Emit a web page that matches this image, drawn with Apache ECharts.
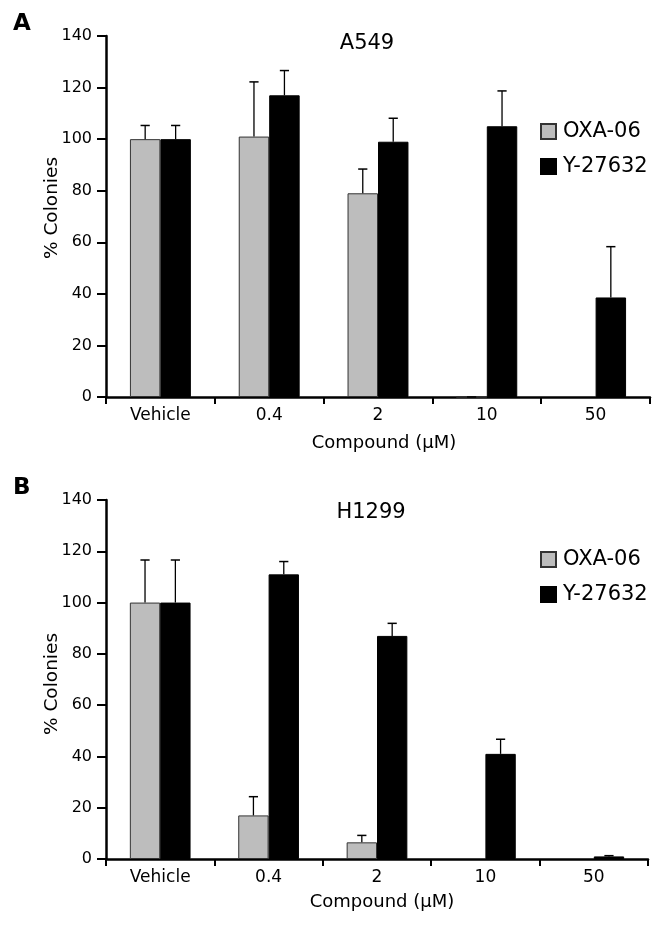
<!DOCTYPE html>
<html>
<head>
<meta charset="utf-8">
<script src="https://cdn.jsdelivr.net/npm/echarts@6/dist/echarts.min.js"></script>
<style>
html,body{margin:0;padding:0;background:#fff;}
#c{width:664px;height:926px;}
</style>
</head>
<body>
<div id="c"></div>
<script>
const categories = ['Vehicle', '0.4', '2', '10', '50'];
const yTicks = [0, 20, 40, 60, 80, 100, 120, 140];
const seriesNames = ['OXA-06', 'Y-27632'];

// Panel A (A549)
const a549_oxa = [100, 101, 79, 0, null];
const a549_oxaErr = [105.3, 122.2, 88.4, 0, null];
const a549_y = [100, 117, 99, 105, 38.6];
const a549_yErr = [105.3, 126.6, 108.1, 118.7, 58.3];

// Panel B (H1299)
const h1299_oxa = [100, 17, 6.5, null, null];
const h1299_oxaErr = [116.6, 24.3, 9.2, null, null];
const h1299_y = [100, 111, 87, 41, 1];
const h1299_yErr = [116.6, 116, 91.9, 46.7, 1.3];

const FONT = 'DejaVu Sans';
const GREY = '#bdbdbd';
const CAT_GAP = 0.44;

function errData(vals, errs) {
  const out = [];
  vals.forEach((v, i) => { if (v !== null && errs[i] !== null) out.push([i, v, errs[i]]); });
  return out;
}

function errSeries(gridIdx, vals, errs, side) {
  return {
    type: 'custom',
    xAxisIndex: gridIdx, yAxisIndex: gridIdx,
    z: 5,
    data: errData(vals, errs),
    renderItem: function (params, api) {
      const base = api.coord([api.value(0), api.value(1)]);
      const top = api.coord([api.value(0), api.value(2)]);
      const band = api.size([1, 0])[0];
      const bw = band * (1 - CAT_GAP) / 2;
      const x = base[0] + side * bw / 2;
      const cap = 4.6;
      return {
        type: 'group',
        children: [
          { type: 'line', shape: { x1: x, y1: base[1], x2: x, y2: top[1] }, style: { stroke: '#000', lineWidth: 1.3 } },
          { type: 'line', shape: { x1: x - cap, y1: top[1], x2: x + cap, y2: top[1] }, style: { stroke: '#000', lineWidth: 1.5 } }
        ]
      };
    }
  };
}

function xAxis(gridIdx) {
  return {
    type: 'category', gridIndex: gridIdx, data: categories,
    axisLine: { lineStyle: { color: '#000', width: 2.5 } },
    axisTick: { show: true, length: 7, lineStyle: { color: '#000', width: 2 } },
    axisLabel: { fontFamily: FONT, fontSize: 17, color: '#000', margin: 10 },
    splitLine: { show: false }
  };
}

function yAxis(gridIdx) {
  return {
    type: 'value', gridIndex: gridIdx, min: 0, max: 140, interval: 20,
    axisLine: { show: true, lineStyle: { color: '#000', width: 2.5 } },
    axisTick: { show: true, length: 9, lineStyle: { color: '#000', width: 2 } },
    axisLabel: { fontFamily: FONT, fontSize: 16, color: '#000', margin: 14,
      formatter: v => yTicks.includes(v) ? String(v) : '' },
    splitLine: { show: false }
  };
}

function barSeries(gridIdx, name, vals, color) {
  return {
    type: 'bar', name: name, xAxisIndex: gridIdx, yAxisIndex: gridIdx,
    data: vals, barGap: '0%', barCategoryGap: (CAT_GAP * 100) + '%',
    itemStyle: { color: color, borderColor: color === GREY ? '#333' : '#000', borderWidth: 1 },
    z: 2
  };
}

function txt(text, x, y, size, opts) {
  return Object.assign({
    type: 'text', x: x, y: y,
    style: { text: text, fontFamily: FONT, fontSize: size, fill: '#000', align: 'center', verticalAlign: 'middle' }
  }, opts || {});
}

const chart = echarts.init(document.getElementById('c'), null, { renderer: 'canvas' });
chart.setOption({
  animation: false,
  backgroundColor: '#fff',
  title: [
    { text: 'A', left: 13, top: 13, padding: 0, textStyle: { fontFamily: FONT, fontSize: 23, fontWeight: 'bold', color: '#000' } },
    { text: 'A549', left: 367, top: 33, padding: 0, textAlign: 'center', textStyle: { fontFamily: FONT, fontSize: 21, fontWeight: 'normal', color: '#000' } },
    { text: 'B', left: 13, top: 477, padding: 0, textStyle: { fontFamily: FONT, fontSize: 23, fontWeight: 'bold', color: '#000' } },
    { text: 'H1299', left: 371, top: 502, padding: 0, textAlign: 'center', textStyle: { fontFamily: FONT, fontSize: 21, fontWeight: 'normal', color: '#000' } }
  ],
  graphic: [
    txt('% Colonies', 52, 208, 18.5, { rotation: Math.PI / 2 }),
    txt('% Colonies', 52, 684, 18.5, { rotation: Math.PI / 2 }),
    txt('Compound (\u03bcM)', 384, 443, 18),
    txt('Compound (\u03bcM)', 382, 902, 18)
  ],
  legend: [
    { data: seriesNames, orient: 'vertical', left: 540, top: 121, padding: 0, itemWidth: 15, itemHeight: 15, itemGap: 14,
      icon: 'rect', textStyle: { fontFamily: FONT, fontSize: 21, color: '#000', padding: [0, 0, 0, 2] }, selectedMode: false },
    { data: seriesNames, orient: 'vertical', left: 540, top: 549, padding: 0, itemWidth: 15, itemHeight: 15, itemGap: 14,
      icon: 'rect', textStyle: { fontFamily: FONT, fontSize: 21, color: '#000', padding: [0, 0, 0, 2] }, selectedMode: false }
  ],
  grid: [
    { left: 106, right: 14, top: 36, height: 361 },
    { left: 106, right: 16, top: 500, height: 359 }
  ],
  xAxis: [xAxis(0), xAxis(1)],
  yAxis: [yAxis(0), yAxis(1)],
  series: [
    barSeries(0, 'OXA-06', a549_oxa, GREY),
    barSeries(0, 'Y-27632', a549_y, '#000'),
    errSeries(0, a549_oxa, a549_oxaErr, -1),
    errSeries(0, a549_y, a549_yErr, 1),
    barSeries(1, 'OXA-06', h1299_oxa, GREY),
    barSeries(1, 'Y-27632', h1299_y, '#000'),
    errSeries(1, h1299_oxa, h1299_oxaErr, -1),
    errSeries(1, h1299_y, h1299_yErr, 1)
  ]
});
</script>
</body>
</html>
